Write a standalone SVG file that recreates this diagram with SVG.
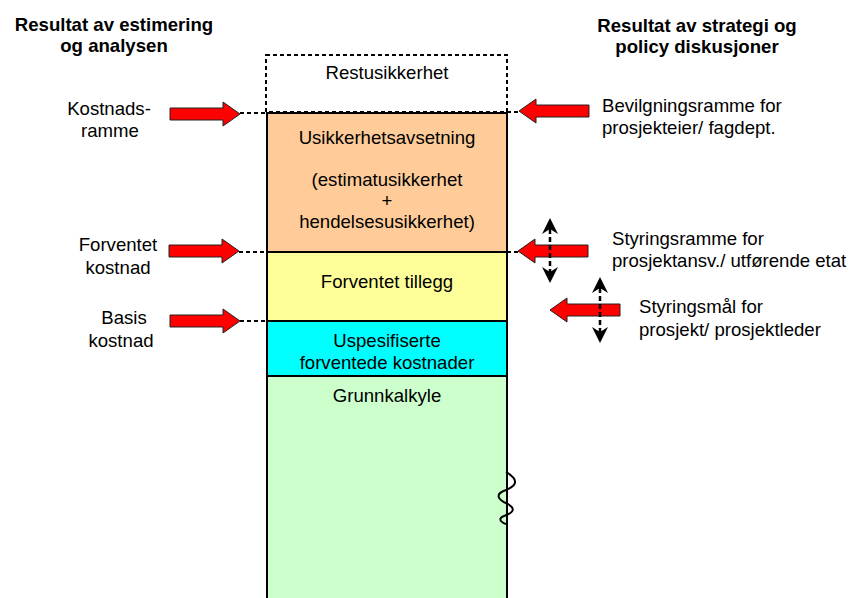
<svg xmlns="http://www.w3.org/2000/svg" width="852" height="598" viewBox="0 0 852 598">
<style>
text{font-family:"Liberation Sans",Arial,sans-serif;font-size:18.6px;fill:#000}
.t{font-weight:bold}
.c{text-anchor:middle}
.box{stroke:#000;stroke-width:2}
.red{fill:#ff0000;stroke:#222;stroke-width:1}
.dash{stroke:#000;stroke-width:2;stroke-dasharray:4 3;fill:none}
.vd{stroke:#000;stroke-width:2.5;stroke-dasharray:5 3;fill:none}
</style>
<defs>
<path id="arr" d="M0,0 L-17,-12 L-17,-6 L-70,-6 L-70,6 L-17,6 L-17,12 Z"/>
<path id="head" d="M0,0 L-8,16 L0,11 L8,16 Z"/>
</defs>
<rect width="852" height="598" fill="#fff"/>
<g id="titles">
<text class="t c" x="114" y="31">Resultat av estimering</text>
<text class="t c" x="114" y="52">og analysen</text>
<text class="t c" x="697" y="32">Resultat av strategi og</text>
<text class="t c" x="697" y="53">policy diskusjoner</text>
</g>
<g id="restusikkerhet">
<rect x="266" y="55" width="241" height="57" fill="#fff" stroke="#000" stroke-width="2" stroke-dasharray="4 3"/>
<text class="c" x="387" y="79">Restusikkerhet</text>
</g>
<g id="usikkerhetsavsetning">
<rect class="box" x="267" y="113" width="240" height="139" fill="#FFCC99"/>
<text class="c" x="387" y="144">Usikkerhetsavsetning</text>
<text class="c" x="387" y="186">(estimatusikkerhet</text>
<text class="c" x="387" y="207">+</text>
<text class="c" x="387" y="228">hendelsesusikkerhet)</text>
</g>
<g id="forventet-tillegg">
<rect class="box" x="267" y="252" width="240" height="69" fill="#FFFF99"/>
<text class="c" x="387" y="288">Forventet tillegg</text>
</g>
<g id="uspesifiserte">
<rect class="box" x="267" y="321" width="240" height="55" fill="#00FFFF"/>
<text class="c" x="387" y="347">Uspesifiserte</text>
<text class="c" x="387" y="369">forventede kostnader</text>
</g>
<g id="grunnkalkyle">
<path d="M267,600 L267,376 L507,376 L507,600" fill="#CCFFCC" stroke="#000" stroke-width="2"/>
<text class="c" x="387" y="402">Grunnkalkyle</text>
<path d="M506,472 C520,480 516,486 506,490 C494,494 498,500 508,504 C518,510 510,514 504,516 C498,518 500,522 506,524" fill="none" stroke="#000" stroke-width="2"/>
</g>
<g id="left-labels">
<text class="c" x="109" y="115">Kostnads-</text>
<text class="c" x="110" y="137">ramme</text>
<text class="c" x="118" y="251">Forventet</text>
<text class="c" x="118" y="274">kostnad</text>
<text class="c" x="124" y="324">Basis</text>
<text class="c" x="121" y="347">kostnad</text>
</g>
<g id="right-labels">
<text x="602" y="112">Bevilgningsramme for</text>
<text x="602" y="134">prosjekteier/ fagdept.</text>
<text x="612" y="245">Styringsramme for</text>
<text x="612" y="267">prosjektansv./ utførende etat</text>
<text x="639" y="313">Styringsmål for</text>
<text x="639" y="336">prosjekt/ prosjektleder</text>
</g>
<g id="connectors">
<path class="dash" d="M240,113 H267 M239,252 H267 M240,321 H267 M507,112 H519 M507,252 H518"/>
<use href="#arr" class="red" transform="translate(240,114)"/>
<use href="#arr" class="red" transform="translate(239,251)"/>
<use href="#arr" class="red" transform="translate(240,321)"/>
<use href="#arr" class="red" transform="translate(519,111) scale(-1,1)"/>
<use href="#arr" class="red" transform="translate(518,251) scale(-1,1)"/>
<use href="#arr" class="red" transform="translate(550,310) scale(-1,1)"/>
<path class="vd" d="M550,229 V272"/>
<use href="#head" transform="translate(550,218)"/>
<use href="#head" transform="translate(550,283) scale(1,-1)"/>
<path class="vd" d="M600,288 V332"/>
<use href="#head" transform="translate(600,277)"/>
<use href="#head" transform="translate(600,343) scale(1,-1)"/>
</g>
</svg>
